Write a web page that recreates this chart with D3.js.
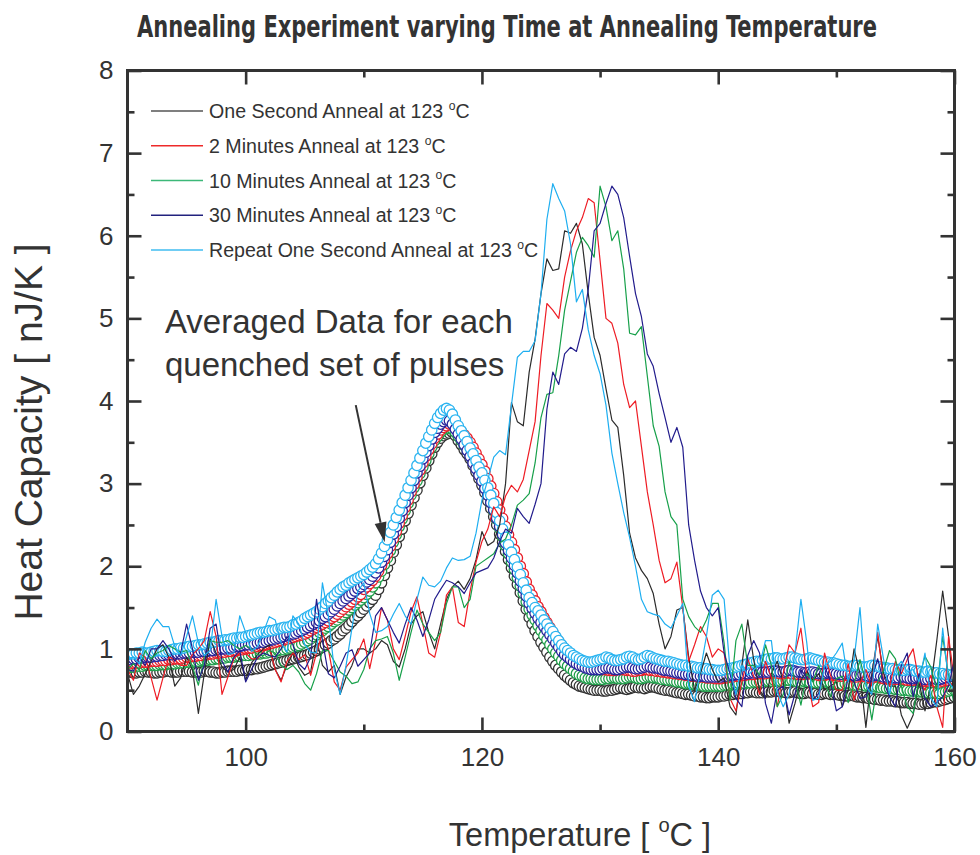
<!DOCTYPE html>
<html>
<head>
<meta charset="utf-8">
<script src="https://cdn.jsdelivr.net/npm/d3@7"></script>
<style>
  body { margin: 0; background: #fff; }
  svg text { font-family: "Liberation Sans", Arial, sans-serif; fill: #333; }
</style>
</head>
<body>
<svg width="980" height="855"></svg>
<script>
// temperature grids: single runs every 0.5 C, averaged data every 0.25 C
const tempLines = d3.range(0, 141).map(i => 90 + i * 0.5);
const tempAvg = d3.range(0, 281).map(i => 90 + i * 0.25);

const xTicks = [100, 120, 140, 160];
const xMinor = [110, 130, 150];
const yTicks = [0, 1, 2, 3, 4, 5, 6, 7, 8];
const yMinor = [0.5, 1.5, 2.5, 3.5, 4.5, 5.5, 6.5, 7.5];

// single anneal runs (heat capacity, nJ/K)
const lineOneSec = [
  0.7,0.45,0.55,0.7,0.85,1.0,1.05,0.9,0.55,0.65,
  0.9,0.75,0.22,0.7,1.12,0.95,0.78,0.72,0.75,0.9,
  0.62,0.83,0.93,1.0,1.05,0.75,0.62,0.8,0.95,0.78,
  0.68,0.72,1.12,0.8,0.72,0.8,0.45,0.66,0.8,1.0,
  1.0,0.95,1.0,1.1,1.05,0.85,0.78,1.0,1.3,1.4,
  1.45,1.2,1.0,1.3,1.6,1.75,1.82,1.72,1.85,2.08,
  2.42,2.25,2.3,2.5,3.0,3.98,3.75,3.7,4.35,4.75,
  5.3,5.72,5.58,5.6,6.06,6.03,6.15,5.9,5.3,4.77,
  4.55,4.15,3.77,3.68,3.1,2.4,2.1,1.95,1.85,1.67,
  1.3,1.0,1.15,1.47,1.5,0.9,0.5,0.7,0.95,0.75,
  0.6,0.65,0.3,0.2,0.8,1.35,0.87,0.5,0.4,0.7,
  0.85,0.6,0.1,0.34,0.62,0.73,0.62,0.7,0.5,0.55,
  0.6,0.3,0.5,1.0,0.7,0.05,0.7,1.15,0.7,0.55,
  0.55,0.2,0.04,0.2,0.6,0.25,0.55,1.1,1.7,1.15,
  0.3
];
const line2Min = [
  0.75,0.62,0.95,0.9,0.65,0.38,0.65,0.9,0.87,0.8,
  0.8,0.93,1.0,1.1,1.45,1.15,0.45,0.66,0.88,0.95,
  0.95,0.88,0.88,0.97,1.02,0.75,0.6,0.85,0.95,0.87,
  0.93,0.68,0.95,1.2,1.0,0.6,0.5,0.78,0.87,0.95,
  1.12,0.76,1.1,1.5,1.35,1.0,0.87,1.15,1.45,1.63,
  1.3,0.95,0.9,1.2,1.65,1.75,1.32,1.27,1.7,2.05,
  2.3,2.45,2.72,2.6,2.85,2.98,2.9,3.05,3.4,3.75,
  4.55,5.18,5.1,5.0,5.5,5.82,6.06,6.22,6.45,6.4,
  5.7,5.0,4.94,4.7,4.2,3.92,4.0,3.45,2.9,2.5,
  2.07,1.8,1.85,2.05,1.5,0.85,1.05,1.27,1.15,0.9,
  1.0,0.95,0.4,0.25,0.6,0.88,0.67,0.45,0.85,0.65,
  0.3,0.7,1.05,0.95,1.25,0.67,0.3,0.35,0.95,0.68,
  0.5,0.5,0.82,0.38,0.58,0.75,0.55,1.2,0.6,0.55,
  0.85,0.7,0.87,1.0,0.6,0.5,0.68,0.3,0.05,1.15,
  0.6
];
const line10Min = [
  0.75,0.82,0.75,0.98,0.88,0.95,0.98,1.04,1.0,0.96,
  0.98,0.78,0.56,0.9,1.1,1.08,1.08,1.1,1.04,1.0,
  1.04,1.0,0.93,0.92,0.98,0.95,0.8,0.75,0.8,0.72,
  0.58,0.5,0.7,0.98,0.98,0.85,0.72,0.67,0.58,0.6,
  0.75,1.0,1.1,1.12,1.15,0.95,0.62,0.9,1.2,1.47,
  1.3,1.2,1.1,1.2,1.55,1.75,1.75,1.5,1.6,2.0,
  2.05,2.1,2.15,2.28,2.33,2.5,2.74,2.8,2.88,3.25,
  3.8,4.08,4.1,4.55,5.1,5.45,5.8,5.98,5.88,5.74,
  6.6,6.35,5.94,6.06,5.6,4.82,4.8,4.9,4.3,3.7,
  3.45,2.9,2.6,2.5,1.6,1.39,1.27,1.2,1.35,1.55,
  1.55,1.07,0.38,1.1,1.3,0.8,0.8,0.68,1.05,0.8,
  0.3,0.45,0.85,0.63,0.32,0.7,0.6,0.8,0.6,0.42,
  0.64,0.67,0.35,0.58,0.87,0.59,0.14,0.6,0.74,0.98,
  0.88,0.55,0.3,0.22,0.65,0.91,0.78,0.5,1.15,0.67,
  0.3
];
const line30Min = [
  0.75,0.73,0.9,0.8,1.0,1.0,1.1,1.0,0.85,0.95,
  1.3,1.0,0.62,0.8,1.25,1.3,0.85,0.72,0.9,0.98,
  0.6,0.75,0.9,0.95,0.92,0.9,1.0,1.15,1.05,0.82,
  0.75,0.9,1.6,1.1,0.7,0.65,0.79,0.95,0.99,0.79,
  0.87,0.95,1.4,1.5,1.35,1.2,1.07,1.3,1.5,1.35,
  1.15,1.35,1.6,1.72,1.83,1.8,1.75,1.67,1.8,1.92,
  1.95,1.98,2.1,2.3,2.45,2.4,2.7,2.6,2.52,2.75,
  3.0,3.9,4.35,4.2,4.57,4.65,4.6,4.88,5.35,6.06,
  6.15,6.39,6.6,6.5,6.22,5.75,5.3,5.02,4.57,4.42,
  4.09,3.8,3.5,3.68,3.44,2.5,2.07,1.7,1.5,1.4,
  1.5,0.95,0.7,0.4,0.3,0.92,1.1,0.95,0.34,0.1,
  0.5,0.55,0.2,0.46,0.75,0.65,0.38,0.46,0.8,0.6,
  0.25,0.3,0.65,0.6,0.4,0.42,0.65,0.88,0.6,0.42,
  0.3,0.8,0.95,0.42,0.7,0.4,0.3,0.35,0.42,0.55,
  0.87
];
const lineRepeat = [
  0.88,0.9,0.82,1.08,1.25,1.36,1.27,1.27,1.03,0.92,
  1.15,1.4,1.07,0.92,0.98,1.6,1.15,0.93,0.95,1.4,
  1.2,0.97,1.03,1.2,1.39,1.35,1.07,0.96,1.4,1.3,
  1.05,0.96,0.95,1.8,1.4,0.75,0.45,0.8,1.25,1.7,
  1.8,1.43,1.2,1.22,1.27,1.42,1.55,1.4,1.3,1.6,
  1.87,1.77,1.75,1.82,1.98,2.1,2.07,2.08,2.12,2.4,
  2.8,3.05,3.32,3.4,3.35,3.95,4.53,4.6,4.6,4.73,
  5.3,6.2,6.63,6.45,6.3,5.9,5.2,5.35,4.86,4.55,
  4.33,3.95,3.37,3.0,2.65,2.35,2.0,1.6,1.45,1.42,
  1.4,1.3,1.25,1.4,1.55,0.55,0.36,0.75,1.15,1.65,
  1.71,1.6,0.75,0.45,0.8,0.68,0.75,0.8,1.1,1.1,
  0.48,0.3,0.45,0.95,1.6,1.07,0.38,0.4,0.8,0.85,
  0.95,1.07,0.6,0.87,1.5,0.55,0.45,1.3,0.87,0.45,
  0.76,0.85,0.72,0.75,0.6,0.95,0.4,0.3,1.25,0.6,
  0.5
];

// averaged data of each quenched set of pulses
const avgOneSec = [
  0.72,0.72,0.71,0.71,0.72,0.72,0.73,0.72,0.72,0.71,0.71,0.72,0.72,0.73,0.73,0.72,0.72,0.72,0.73,0.73,
  0.73,0.73,0.72,0.72,0.72,0.72,0.73,0.73,0.72,0.72,0.71,0.71,0.72,0.72,0.73,0.73,0.73,0.73,0.74,0.74,
  0.74,0.75,0.75,0.76,0.76,0.77,0.78,0.79,0.8,0.81,0.82,0.83,0.84,0.85,0.86,0.87,0.88,0.89,0.9,0.91,
  0.92,0.93,0.95,0.96,0.98,1.0,1.02,1.05,1.07,1.1,1.12,1.15,1.18,1.22,1.25,1.29,1.33,1.37,1.4,1.44,
  1.48,1.52,1.56,1.6,1.65,1.72,1.8,1.89,1.98,2.07,2.17,2.26,2.36,2.45,2.55,2.64,2.74,2.83,2.92,3.01,
  3.1,3.19,3.28,3.36,3.44,3.5,3.55,3.58,3.6,3.61,3.62,3.58,3.52,3.47,3.41,3.36,3.3,3.22,3.14,3.06,
  2.98,2.89,2.79,2.7,2.6,2.5,2.39,2.29,2.18,2.08,1.98,1.88,1.78,1.68,1.58,1.48,1.38,1.3,1.22,1.15,
  1.08,1.02,0.96,0.9,0.85,0.8,0.76,0.72,0.68,0.65,0.62,0.59,0.57,0.55,0.54,0.53,0.52,0.51,0.5,0.5,
  0.5,0.49,0.49,0.5,0.5,0.51,0.52,0.53,0.52,0.51,0.52,0.53,0.54,0.53,0.53,0.52,0.53,0.54,0.54,0.53,
  0.52,0.51,0.5,0.5,0.49,0.48,0.47,0.47,0.46,0.45,0.45,0.44,0.43,0.43,0.42,0.42,0.41,0.41,0.42,0.42,
  0.42,0.43,0.43,0.44,0.45,0.45,0.46,0.46,0.46,0.47,0.47,0.48,0.48,0.47,0.47,0.47,0.48,0.48,0.48,0.49,
  0.49,0.48,0.48,0.47,0.47,0.48,0.48,0.47,0.46,0.46,0.47,0.47,0.46,0.46,0.45,0.45,0.46,0.46,0.45,0.45,
  0.45,0.44,0.44,0.43,0.43,0.44,0.43,0.42,0.42,0.41,0.41,0.4,0.4,0.39,0.39,0.38,0.38,0.37,0.37,0.37,
  0.36,0.36,0.35,0.35,0.35,0.34,0.34,0.34,0.33,0.33,0.34,0.34,0.35,0.36,0.36,0.37,0.38,0.39,0.4,0.41,
  0.42
];
const avg2Min = [
  0.82,0.82,0.83,0.83,0.83,0.84,0.84,0.84,0.85,0.85,0.85,0.86,0.86,0.86,0.87,0.87,0.88,0.88,0.88,0.89,
  0.9,0.9,0.91,0.91,0.92,0.92,0.93,0.93,0.94,0.94,0.95,0.95,0.96,0.96,0.97,0.97,0.98,0.98,0.99,0.99,
  1.0,1.01,1.01,1.02,1.03,1.04,1.04,1.05,1.06,1.07,1.08,1.09,1.1,1.11,1.12,1.13,1.14,1.15,1.16,1.17,
  1.18,1.2,1.22,1.24,1.26,1.28,1.3,1.32,1.34,1.37,1.39,1.42,1.45,1.48,1.51,1.54,1.57,1.6,1.63,1.66,
  1.72,1.75,1.79,1.83,1.88,1.94,2.01,2.08,2.15,2.24,2.33,2.42,2.52,2.61,2.71,2.8,2.9,2.99,3.08,3.16,
  3.25,3.33,3.41,3.48,3.55,3.6,3.65,3.68,3.7,3.72,3.72,3.7,3.67,3.63,3.59,3.55,3.5,3.44,3.37,3.3,
  3.23,3.15,3.06,2.97,2.88,2.78,2.68,2.58,2.48,2.38,2.29,2.2,2.1,2.0,1.91,1.81,1.72,1.65,1.58,1.51,
  1.45,1.38,1.32,1.26,1.2,1.14,1.09,1.04,1.0,0.96,0.92,0.88,0.85,0.83,0.81,0.79,0.78,0.77,0.76,0.76,
  0.76,0.75,0.75,0.74,0.74,0.74,0.75,0.75,0.75,0.74,0.74,0.73,0.73,0.74,0.74,0.75,0.75,0.74,0.74,0.73,
  0.73,0.72,0.72,0.71,0.71,0.7,0.7,0.69,0.69,0.68,0.68,0.67,0.67,0.66,0.66,0.66,0.65,0.65,0.65,0.64,
  0.64,0.64,0.65,0.65,0.66,0.66,0.67,0.67,0.68,0.68,0.69,0.69,0.69,0.7,0.7,0.7,0.7,0.71,0.71,0.71,
  0.71,0.7,0.7,0.71,0.71,0.7,0.7,0.69,0.69,0.69,0.7,0.7,0.69,0.69,0.68,0.68,0.68,0.69,0.69,0.68,
  0.68,0.67,0.67,0.68,0.68,0.67,0.66,0.66,0.67,0.67,0.66,0.65,0.65,0.66,0.66,0.65,0.64,0.64,0.64,0.63,
  0.63,0.63,0.64,0.63,0.62,0.62,0.62,0.63,0.62,0.61,0.61,0.61,0.62,0.61,0.6,0.6,0.61,0.62,0.62,0.63,
  0.63
];
const avg10Min = [
  0.78,0.78,0.78,0.79,0.79,0.79,0.8,0.8,0.8,0.8,0.8,0.81,0.81,0.81,0.82,0.82,0.82,0.83,0.83,0.83,
  0.84,0.84,0.84,0.85,0.85,0.86,0.86,0.86,0.87,0.87,0.88,0.88,0.89,0.89,0.9,0.9,0.9,0.91,0.91,0.92,
  0.92,0.92,0.93,0.93,0.94,0.94,0.95,0.95,0.96,0.97,0.97,0.98,0.99,0.99,1.0,1.01,1.02,1.03,1.04,1.06,
  1.08,1.1,1.12,1.15,1.17,1.2,1.22,1.25,1.27,1.3,1.33,1.35,1.38,1.41,1.44,1.47,1.5,1.53,1.56,1.59,
  1.62,1.66,1.7,1.75,1.8,1.87,1.94,2.02,2.1,2.19,2.29,2.38,2.48,2.57,2.67,2.76,2.86,2.95,3.03,3.12,
  3.2,3.28,3.36,3.44,3.52,3.57,3.62,3.65,3.67,3.67,3.66,3.62,3.57,3.52,3.46,3.41,3.35,3.28,3.2,3.12,
  3.04,2.95,2.86,2.77,2.67,2.57,2.46,2.36,2.25,2.15,2.05,1.96,1.86,1.76,1.67,1.57,1.48,1.41,1.35,1.28,
  1.22,1.16,1.11,1.05,1.0,0.95,0.91,0.86,0.82,0.79,0.76,0.73,0.7,0.68,0.67,0.65,0.64,0.64,0.63,0.63,
  0.63,0.63,0.64,0.64,0.65,0.65,0.64,0.64,0.64,0.65,0.66,0.66,0.65,0.64,0.64,0.65,0.66,0.66,0.65,0.65,
  0.64,0.63,0.63,0.62,0.62,0.61,0.6,0.6,0.59,0.58,0.58,0.57,0.57,0.56,0.56,0.55,0.55,0.55,0.55,0.55,
  0.55,0.55,0.56,0.56,0.56,0.57,0.57,0.58,0.58,0.58,0.59,0.59,0.6,0.6,0.6,0.6,0.61,0.61,0.61,0.62,
  0.62,0.61,0.61,0.62,0.62,0.62,0.61,0.6,0.6,0.61,0.61,0.6,0.6,0.59,0.59,0.59,0.6,0.6,0.59,0.58,
  0.58,0.57,0.57,0.58,0.58,0.57,0.56,0.56,0.57,0.56,0.55,0.55,0.55,0.54,0.54,0.53,0.53,0.52,0.52,0.52,
  0.51,0.51,0.5,0.5,0.5,0.49,0.49,0.49,0.48,0.48,0.48,0.47,0.47,0.47,0.46,0.46,0.47,0.48,0.49,0.5,
  0.5
];
const avg30Min = [
  0.87,0.87,0.88,0.88,0.89,0.89,0.9,0.9,0.9,0.91,0.91,0.92,0.92,0.93,0.93,0.93,0.94,0.94,0.94,0.95,
  0.95,0.95,0.96,0.96,0.96,0.97,0.97,0.97,0.98,0.98,0.99,0.99,1.0,1.0,1.01,1.01,1.02,1.03,1.03,1.04,
  1.05,1.05,1.06,1.06,1.07,1.08,1.08,1.09,1.1,1.11,1.12,1.13,1.14,1.15,1.16,1.17,1.18,1.19,1.21,1.22,
  1.24,1.26,1.28,1.3,1.32,1.34,1.37,1.39,1.42,1.45,1.48,1.52,1.55,1.58,1.61,1.64,1.67,1.7,1.73,1.75,
  1.78,1.81,1.84,1.88,1.92,1.98,2.05,2.12,2.2,2.29,2.39,2.48,2.58,2.67,2.77,2.86,2.95,3.04,3.13,3.21,
  3.3,3.38,3.46,3.54,3.62,3.67,3.72,3.75,3.77,3.76,3.72,3.66,3.6,3.54,3.47,3.4,3.33,3.25,3.18,3.1,
  3.03,2.94,2.86,2.77,2.68,2.58,2.48,2.38,2.28,2.19,2.1,2.01,1.92,1.82,1.73,1.64,1.55,1.49,1.43,1.37,
  1.32,1.27,1.22,1.17,1.12,1.07,1.02,0.97,0.93,0.9,0.87,0.84,0.82,0.8,0.79,0.77,0.76,0.75,0.75,0.75,
  0.75,0.76,0.77,0.77,0.76,0.75,0.75,0.76,0.77,0.78,0.78,0.77,0.76,0.76,0.77,0.78,0.79,0.78,0.77,0.77,
  0.76,0.75,0.74,0.74,0.73,0.72,0.71,0.71,0.7,0.69,0.69,0.68,0.68,0.67,0.67,0.67,0.66,0.66,0.66,0.66,
  0.66,0.66,0.67,0.67,0.68,0.68,0.69,0.69,0.7,0.7,0.7,0.71,0.71,0.71,0.72,0.72,0.72,0.72,0.73,0.73,
  0.73,0.72,0.72,0.73,0.74,0.74,0.73,0.72,0.72,0.71,0.71,0.72,0.72,0.71,0.7,0.7,0.7,0.71,0.71,0.7,
  0.7,0.69,0.69,0.7,0.7,0.69,0.68,0.68,0.69,0.69,0.68,0.67,0.67,0.68,0.68,0.67,0.66,0.66,0.66,0.65,
  0.65,0.65,0.66,0.66,0.65,0.64,0.64,0.65,0.65,0.64,0.63,0.63,0.64,0.64,0.63,0.63,0.64,0.65,0.66,0.67,
  0.67
];
const avgRepeat = [
  0.93,0.94,0.94,0.95,0.95,0.96,0.95,0.95,0.96,0.97,0.98,0.98,0.97,0.97,0.98,0.99,1.0,1.0,1.01,1.01,
  1.02,1.03,1.03,1.04,1.05,1.05,1.06,1.07,1.08,1.08,1.09,1.1,1.1,1.11,1.11,1.12,1.13,1.13,1.14,1.14,
  1.15,1.16,1.17,1.18,1.19,1.2,1.2,1.21,1.22,1.22,1.23,1.24,1.25,1.26,1.26,1.27,1.29,1.3,1.32,1.34,
  1.37,1.39,1.41,1.43,1.45,1.48,1.51,1.55,1.58,1.62,1.65,1.69,1.72,1.75,1.77,1.8,1.82,1.84,1.86,1.88,
  1.9,1.93,1.96,1.99,2.03,2.09,2.16,2.24,2.32,2.41,2.5,2.59,2.68,2.77,2.86,2.95,3.04,3.13,3.22,3.31,
  3.4,3.49,3.57,3.65,3.73,3.8,3.85,3.89,3.91,3.89,3.84,3.77,3.7,3.64,3.58,3.51,3.43,3.36,3.28,3.2,
  3.13,3.04,2.95,2.86,2.76,2.65,2.55,2.45,2.35,2.26,2.17,2.08,1.99,1.9,1.8,1.71,1.62,1.56,1.5,1.46,
  1.41,1.35,1.3,1.25,1.21,1.15,1.1,1.05,1.01,0.98,0.95,0.92,0.9,0.88,0.86,0.85,0.84,0.84,0.85,0.86,
  0.87,0.88,0.9,0.89,0.87,0.86,0.86,0.87,0.88,0.9,0.91,0.9,0.88,0.87,0.88,0.9,0.92,0.91,0.89,0.88,
  0.87,0.86,0.85,0.85,0.84,0.83,0.82,0.81,0.8,0.8,0.79,0.79,0.78,0.77,0.77,0.76,0.76,0.75,0.75,0.74,
  0.74,0.74,0.75,0.76,0.76,0.77,0.78,0.79,0.8,0.81,0.82,0.83,0.84,0.85,0.85,0.86,0.87,0.88,0.88,0.89,
  0.89,0.88,0.88,0.89,0.9,0.9,0.89,0.88,0.87,0.87,0.88,0.89,0.88,0.87,0.86,0.85,0.84,0.84,0.83,0.83,
  0.82,0.81,0.8,0.8,0.79,0.79,0.8,0.8,0.79,0.78,0.78,0.79,0.8,0.8,0.79,0.78,0.77,0.77,0.76,0.76,
  0.75,0.75,0.74,0.74,0.75,0.75,0.74,0.73,0.73,0.72,0.72,0.73,0.72,0.71,0.71,0.7,0.7,0.69,0.69,0.68,
  0.68
];

const seriesNames = [
  "One Second Anneal at 123 ",
  "2 Minutes Anneal at 123 ",
  "10 Minutes Anneal at 123 ",
  "30 Minutes Anneal at 123 ",
  "Repeat One Second Anneal at 123 "
];
const lineColors = ["#2b2b2b", "#ee1c24", "#17a04a", "#221c8c", "#1eaef0"];
const legendColors = ["#555555", "#ee2a2a", "#3cb878", "#22227e", "#40bdf0"];
const avgColors = ["#333333", "#1f9e4a", "#e8202a", "#2a269c", "#2bb4f0"];

const lineData = [lineOneSec, line2Min, line10Min, line30Min, lineRepeat];
// drawn bottom to top: black, green, red, navy, cyan
const avgData = [avgOneSec, avg10Min, avg2Min, avg30Min, avgRepeat];

const svg = d3.select("svg");
const plotLeft = 127.5, plotRight = 954.5, plotTop = 70.5, plotBottom = 731.5;

const x = d3.scaleLinear().domain([90, 160]).range([plotLeft, plotRight]);
const y = d3.scaleLinear().domain([0, 8]).range([plotBottom, plotTop]);

svg.append("defs").append("clipPath").attr("id", "plotClip")
  .append("rect").attr("x", plotLeft).attr("y", plotTop)
  .attr("width", plotRight - plotLeft).attr("height", plotBottom - plotTop);

// averaged data as open circles
const avgG = svg.append("g").attr("clip-path", "url(#plotClip)");
avgData.forEach((vals, k) => {
  avgG.append("g").selectAll("circle")
    .data(vals)
    .join("circle")
    .attr("cx", (d, i) => x(tempAvg[i]))
    .attr("cy", d => y(d))
    .attr("r", 5.2)
    .attr("fill", "#fff")
    .attr("stroke", avgColors[k])
    .attr("stroke-width", 1.3);
});

// single runs as thin lines
const line = d3.line()
  .x((d, i) => x(tempLines[i]))
  .y(d => y(d));
const lineG = svg.append("g").attr("clip-path", "url(#plotClip)");
lineData.forEach((vals, k) => {
  lineG.append("path")
    .attr("d", line(vals))
    .attr("fill", "none")
    .attr("stroke", lineColors[k])
    .attr("stroke-width", 1.2)
    .attr("stroke-linejoin", "round");
});

// axes, ticks pointing into the frame
function styleAxis(g) {
  g.select(".domain").remove();
  g.selectAll(".tick line").attr("stroke", "#333").attr("stroke-width", 2.6);
  g.selectAll(".tick text").attr("fill", "#333")
    .style("font-family", '"Liberation Sans", Arial, sans-serif')
    .style("font-size", "26px");
}

svg.append("g").attr("transform", `translate(0,${plotBottom})`)
  .call(d3.axisBottom(x).tickValues(xTicks).tickSizeInner(-14).tickSizeOuter(0).tickPadding(16).tickFormat(d3.format("d")))
  .call(styleAxis);
svg.append("g").attr("transform", `translate(0,${plotBottom})`)
  .call(d3.axisBottom(x).tickValues(xMinor).tickSizeInner(-7).tickSizeOuter(0).tickFormat(""))
  .call(styleAxis);
svg.append("g").attr("transform", `translate(0,${plotTop})`)
  .call(d3.axisTop(x).tickValues(xTicks).tickSizeInner(-14).tickSizeOuter(0).tickFormat(""))
  .call(styleAxis);
svg.append("g").attr("transform", `translate(0,${plotTop})`)
  .call(d3.axisTop(x).tickValues(xMinor).tickSizeInner(-7).tickSizeOuter(0).tickFormat(""))
  .call(styleAxis);

svg.append("g").attr("transform", `translate(${plotLeft},0)`)
  .call(d3.axisLeft(y).tickValues(yTicks).tickSizeInner(-14).tickSizeOuter(0).tickPadding(14).tickFormat(d3.format("d")))
  .call(styleAxis);
svg.append("g").attr("transform", `translate(${plotLeft},0)`)
  .call(d3.axisLeft(y).tickValues(yMinor).tickSizeInner(-7).tickSizeOuter(0).tickFormat(""))
  .call(styleAxis);
svg.append("g").attr("transform", `translate(${plotRight},0)`)
  .call(d3.axisRight(y).tickValues(yTicks).tickSizeInner(-14).tickSizeOuter(0).tickFormat(""))
  .call(styleAxis);
svg.append("g").attr("transform", `translate(${plotRight},0)`)
  .call(d3.axisRight(y).tickValues(yMinor).tickSizeInner(-7).tickSizeOuter(0).tickFormat(""))
  .call(styleAxis);

// frame
svg.append("rect")
  .attr("x", plotLeft).attr("y", plotTop)
  .attr("width", plotRight - plotLeft).attr("height", plotBottom - plotTop)
  .attr("fill", "none").attr("stroke", "#333").attr("stroke-width", 3);

// text with a raised small "o" before C
function degText(sel, before, after, size) {
  sel.append("tspan").text(before);
  sel.append("tspan").text("o")
    .attr("font-size", size * 0.62)
    .attr("dy", -size * 0.42);
  sel.append("tspan").text(after)
    .attr("dy", size * 0.42);
}

// legend
const legendY = d3.scaleLinear().domain([0, 4]).range([111, 250]);
const legend = svg.append("g");
seriesNames.forEach((name, k) => {
  const ly = legendY(k);
  legend.append("line")
    .attr("x1", 151).attr("x2", 203)
    .attr("y1", ly).attr("y2", ly)
    .attr("stroke", legendColors[k]).attr("stroke-width", 1.3);
  const t = legend.append("text")
    .attr("x", 209).attr("y", ly + 7)
    .attr("font-size", 19.6);
  degText(t, name, "C", 19.6);
});

// title: condensed bold, stretched vertically
svg.append("text")
  .attr("transform", "translate(507,37) scale(1,1.2)")
  .attr("text-anchor", "middle")
  .attr("textLength", 740)
  .attr("lengthAdjust", "spacingAndGlyphs")
  .style("font-family", '"Liberation Sans Narrow", "DejaVu Sans Condensed", sans-serif')
  .style("font-weight", "bold")
  .style("font-size", "25px")
  .text("Annealing Experiment varying Time at Annealing Temperature");

// axis titles
const xt = svg.append("text")
  .attr("x", 580).attr("y", 846)
  .attr("text-anchor", "middle")
  .attr("font-size", 32.5);
degText(xt, "Temperature [ ", "C ]", 32.5);

svg.append("text")
  .attr("transform", "translate(42,432) rotate(-90)")
  .attr("text-anchor", "middle")
  .attr("font-size", 39)
  .text("Heat Capacity [ nJ/K ]");

// annotation with arrow
svg.append("text")
  .attr("x", x(93.17)).attr("y", y(4.82))
  .attr("font-size", 33)
  .text("Averaged Data for each");
svg.append("text")
  .attr("x", x(93.17)).attr("y", y(4.3))
  .attr("font-size", 33)
  .text("quenched set of pulses");

const a0 = [x(109.32), y(3.95)], a1 = [x(111.77), y(2.29)];
const ang = Math.atan2(a1[1] - a0[1], a1[0] - a0[0]);
const headLen = 20, headW = 6;
const base = [a1[0] - headLen * Math.cos(ang), a1[1] - headLen * Math.sin(ang)];
svg.append("line")
  .attr("x1", a0[0]).attr("y1", a0[1])
  .attr("x2", base[0]).attr("y2", base[1])
  .attr("stroke", "#333").attr("stroke-width", 2);
svg.append("path")
  .attr("d", d3.line()([
    a1,
    [base[0] + headW * Math.sin(ang), base[1] - headW * Math.cos(ang)],
    [base[0] - headW * Math.sin(ang), base[1] + headW * Math.cos(ang)]
  ]) + "Z")
  .attr("fill", "#333");
</script>
</body>
</html>
